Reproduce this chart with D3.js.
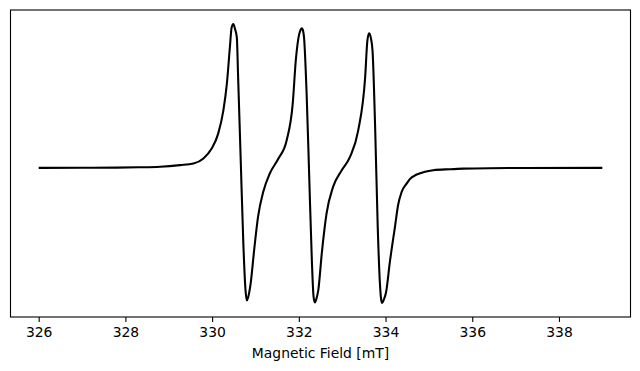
<!DOCTYPE html>
<html lang="en">
<head>
    <meta charset="UTF-8">
    <title>EPR spectrum</title>
    <script src="https://cdn.jsdelivr.net/npm/d3@7/dist/d3.min.js"></script>
    <style>
        body { margin: 0; background: #fff; }
        text { font-family: 'DejaVu Sans', sans-serif; }
    </style>
</head>
<body>
    <svg width="640" height="371" id="mainsvg"></svg>
    <script>
        // field points (mT)
        const field = [
            326.00, 327.00, 327.80, 328.30, 328.80, 329.26, 329.57, 329.80, 329.99, 330.14,
            330.26, 330.34, 330.41, 330.45, 330.49, 330.525, 330.57, 330.60, 330.66, 330.72,
            330.77, 330.80, 330.83, 330.89, 330.97, 331.06, 331.18, 331.33, 331.53, 331.72,
            331.86, 331.93, 332.01, 332.04, 332.07, 332.10, 332.12, 332.18, 332.24, 332.30,
            332.34, 332.37, 332.40, 332.45, 332.53, 332.64, 332.79, 332.99, 333.18, 333.37,
            333.53, 333.58, 333.62, 333.66, 333.70, 333.76, 333.82, 333.87, 333.895, 333.92,
            333.96, 334.01, 334.10, 334.22, 334.29, 334.37, 334.49, 334.56, 334.72, 334.91,
            335.10, 335.49, 335.79, 336.40, 337.20, 339.00
        ];
        // signal (arb. units), first derivative spectrum
        const signal = [
            0.000, 0.001, 0.002, 0.004, 0.008, 0.019, 0.030, 0.065, 0.134, 0.238,
            0.400, 0.584, 0.838, 0.975, 1.000, 0.968, 0.907, 0.630, 0.053, -0.524,
            -0.847, -0.921, -0.900, -0.801, -0.570, -0.339, -0.166, -0.039, 0.065, 0.192,
            0.448, 0.746, 0.931, 0.958, 0.970, 0.950, 0.907, 0.515, -0.062, -0.639,
            -0.895, -0.935, -0.915, -0.847, -0.593, -0.316, -0.132, -0.016, 0.076, 0.261,
            0.630, 0.880, 0.935, 0.905, 0.815, 0.284, -0.409, -0.801, -0.905, -0.939,
            -0.915, -0.868, -0.653, -0.404, -0.258, -0.168, -0.108, -0.078, -0.046, -0.026,
            -0.016, -0.009, -0.005, -0.002, -0.001, 0.000
        ];
        const xTicks = [326, 328, 330, 332, 334, 336, 338];
        const xTitle = 'Magnetic Field [mT]';

        const svg = d3.select('svg');
        const box = {left: 10.5, right: 630.5, top: 10, bottom: 317};

        const data = field.map((f, i) => ({f: f, s: signal[i]}));

        // matplotlib style 5% margins
        const fExt = d3.extent(field);
        const fPad = (fExt[1] - fExt[0]) * 0.05;
        const sExt = d3.extent(signal);
        const sPad = (sExt[1] - sExt[0]) * 0.05;

        const xScale = d3.scaleLinear()
            .domain([fExt[0] - fPad, fExt[1] + fPad])
            .range([box.left, box.right]);
        const yScale = d3.scaleLinear()
            .domain([sExt[0] - sPad, sExt[1] + sPad])
            .range([box.bottom, box.top]);

        // spectrum line
        const line = d3.line()
            .x(d => xScale(d.f))
            .y(d => yScale(d.s))
            .curve(d3.curveMonotoneX);
        svg.append('path').datum(data)
            .attr('d', line)
            .attr('fill', 'none')
            .attr('stroke', 'black')
            .attr('stroke-width', 2.08)
            .attr('stroke-linejoin', 'round');

        // frame
        svg.append('rect')
            .attr('x', box.left).attr('y', box.top)
            .attr('width', box.right - box.left).attr('height', box.bottom - box.top)
            .attr('fill', 'none').attr('stroke', 'black').attr('stroke-width', 1.1);

        // x axis
        const xAxis = d3.axisBottom(xScale).tickValues(xTicks)
            .tickSize(4.9).tickPadding(4.9).tickFormat(d3.format('d'));
        const xAxisGroup = svg.append('g')
            .attr('transform', `translate(0, ${box.bottom})`)
            .call(xAxis);
        xAxisGroup.select('.domain').remove();
        xAxisGroup.selectAll('.tick line').attr('stroke', 'black').attr('stroke-width', 1.1);
        xAxisGroup.selectAll('.tick text').attr('fill', 'black')
            .attr('font-size', '13.9px').attr('font-family', 'DejaVu Sans');

        svg.append('text').text(xTitle)
            .attr('x', (box.left + box.right) / 2).attr('y', 358)
            .attr('text-anchor', 'middle').attr('fill', 'black')
            .attr('font-size', '13.9px');
    </script>
</body>
</html>
